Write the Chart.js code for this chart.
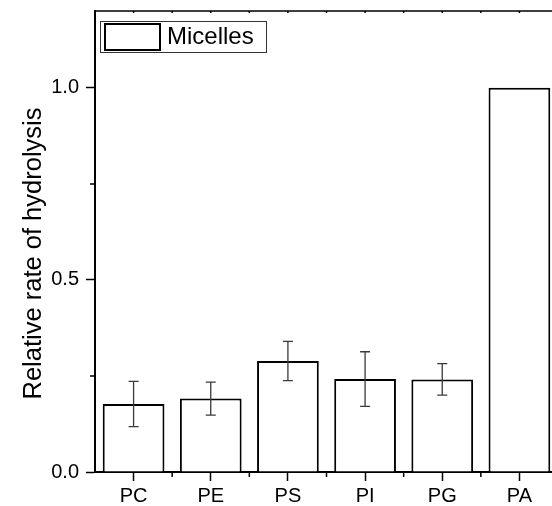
<!DOCTYPE html>
<html>
<head>
<meta charset="utf-8">
<script src="https://cdn.jsdelivr.net/npm/chart.js@4.4.0/dist/chart.umd.min.js"></script>
<style>
html,body{margin:0;padding:0;overflow:hidden;background:#fff;}
#wrap{width:560px;height:506px;}
</style>
</head>
<body>
<div id="wrap"><canvas id="c" width="560" height="506"></canvas></div>
<script>
const categories = ['PC', 'PE', 'PS', 'PI', 'PG', 'PA'];
const values = [0.177, 0.191, 0.289, 0.242, 0.241, 1.0];
const errors = [0.059, 0.043, 0.051, 0.071, 0.041, 0];
const seriesLabel = 'Micelles';
const yTicks = [0, 0.5, 1.0];
const yMinorTicks = [0.25, 0.75];
const axisTitle = 'Relative rate of hydrolysis';

const FONT = '"Liberation Sans", Arial, sans-serif';

const extras = {
  id: 'extras',
  afterDatasetsDraw(chart) {
    const ctx = chart.ctx;
    const x = chart.scales.x, y = chart.scales.y;
    const area = chart.chartArea;
    ctx.save();
    // error bars
    ctx.strokeStyle = '#3a3a3a';
    ctx.lineWidth = 1.3;
    values.forEach((v, i) => {
      const e = errors[i];
      if (!e) return;
      const px = x.getPixelForValue(i);
      const yt = y.getPixelForValue(v + e);
      const yb = y.getPixelForValue(v - e);
      ctx.beginPath();
      ctx.moveTo(px, yt); ctx.lineTo(px, yb);
      ctx.moveTo(px - 5, yt); ctx.lineTo(px + 5, yt);
      ctx.moveTo(px - 5, yb); ctx.lineTo(px + 5, yb);
      ctx.stroke();
    });
    // minor ticks
    ctx.strokeStyle = '#000';
    ctx.lineWidth = 1.5;
    ctx.beginPath();
    yMinorTicks.forEach(t => {
      const py = y.getPixelForValue(t);
      ctx.moveTo(area.left - 5, py); ctx.lineTo(area.left, py);
    });
    for (let i = 0; i < categories.length; i++) {
      const pb = (x.getPixelForValue(i) + x.getPixelForValue(i + 1)) / 2;
      ctx.moveTo(pb, area.bottom); ctx.lineTo(pb, area.bottom + 5);
    }
    ctx.stroke();
    // top frame with small ticks
    ctx.lineWidth = 1.5;
    ctx.beginPath();
    ctx.moveTo(area.left, area.top); ctx.lineTo(area.right + 5, area.top);
    for (let i = 0; i < categories.length; i++) {
      const pc = x.getPixelForValue(i);
      const pb = pc + (x.getPixelForValue(1) - x.getPixelForValue(0)) / 2;
      ctx.moveTo(pc, area.top); ctx.lineTo(pc, area.top + 2);
      ctx.moveTo(pb, area.top); ctx.lineTo(pb, area.top + 2);
    }
    ctx.stroke();
    // axis title
    ctx.save();
    ctx.translate(34, (area.top + area.bottom) / 2 + 12);
    ctx.rotate(-Math.PI / 2);
    ctx.fillStyle = '#000';
    ctx.font = '25.5px ' + FONT;
    ctx.textAlign = 'center';
    ctx.textBaseline = 'middle';
    ctx.fillText(axisTitle, 0, 0);
    ctx.restore();
    // legend
    const lx = area.left + 5, ly = area.top + 10, lw = 166, lh = 31;
    ctx.lineWidth = 1;
    ctx.strokeStyle = '#333';
    ctx.strokeRect(lx + 0.5, ly + 0.5, lw, lh);
    ctx.lineWidth = 2;
    ctx.strokeStyle = '#000';
    ctx.fillStyle = '#fff';
    ctx.fillRect(lx + 5, ly + 3, 55, 26);
    ctx.strokeRect(lx + 5, ly + 3, 55, 26);
    ctx.fillStyle = '#000';
    ctx.font = '24px ' + FONT;
    ctx.textBaseline = 'middle';
    ctx.textAlign = 'left';
    ctx.fillText(chart.data.datasets[0].label, lx + 67, ly + lh / 2 + 1);
    ctx.restore();
  }
};

new Chart(document.getElementById('c'), {
  type: 'bar',
  data: {
    labels: categories,
    datasets: [{
      label: seriesLabel,
      data: values,
      backgroundColor: '#ffffff',
      borderColor: '#000000',
      borderWidth: 2,
      barPercentage: 0.8,
      categoryPercentage: 1.0
    }]
  },
  options: {
    responsive: false,
    animation: false,
    layout: { padding: { top: 11, right: 2, left: 0, bottom: 0 } },
    plugins: { legend: { display: false }, tooltip: { enabled: false } },
    scales: {
      x: {
        offset: true,
        grid: { offset: false, drawOnChartArea: false, tickLength: 9, color: '#000', tickWidth: 1.5 },
        border: { color: '#000', width: 2 },
        ticks: { color: '#000', font: { family: FONT, size: 20 }, padding: 3, maxRotation: 0 },
        afterFit(s) { s.height = 34; s.paddingLeft = 0; s.paddingRight = 0; }
      },
      y: {
        min: 0, max: 1.2,
        afterBuildTicks(s) { s.ticks = yTicks.map(v => ({ value: v })); },
        grid: { drawOnChartArea: false, tickLength: 9, color: '#000', tickWidth: 1.5 },
        border: { color: '#000', width: 2 },
        ticks: { color: '#000', font: { family: FONT, size: 20 }, padding: 7,
          callback: v => Number(v).toFixed(1) },
        afterFit(s) { s.width = 95; s.paddingTop = 0; s.paddingBottom = 0; }
      }
    }
  },
  plugins: [extras]
});
</script>
</body>
</html>
